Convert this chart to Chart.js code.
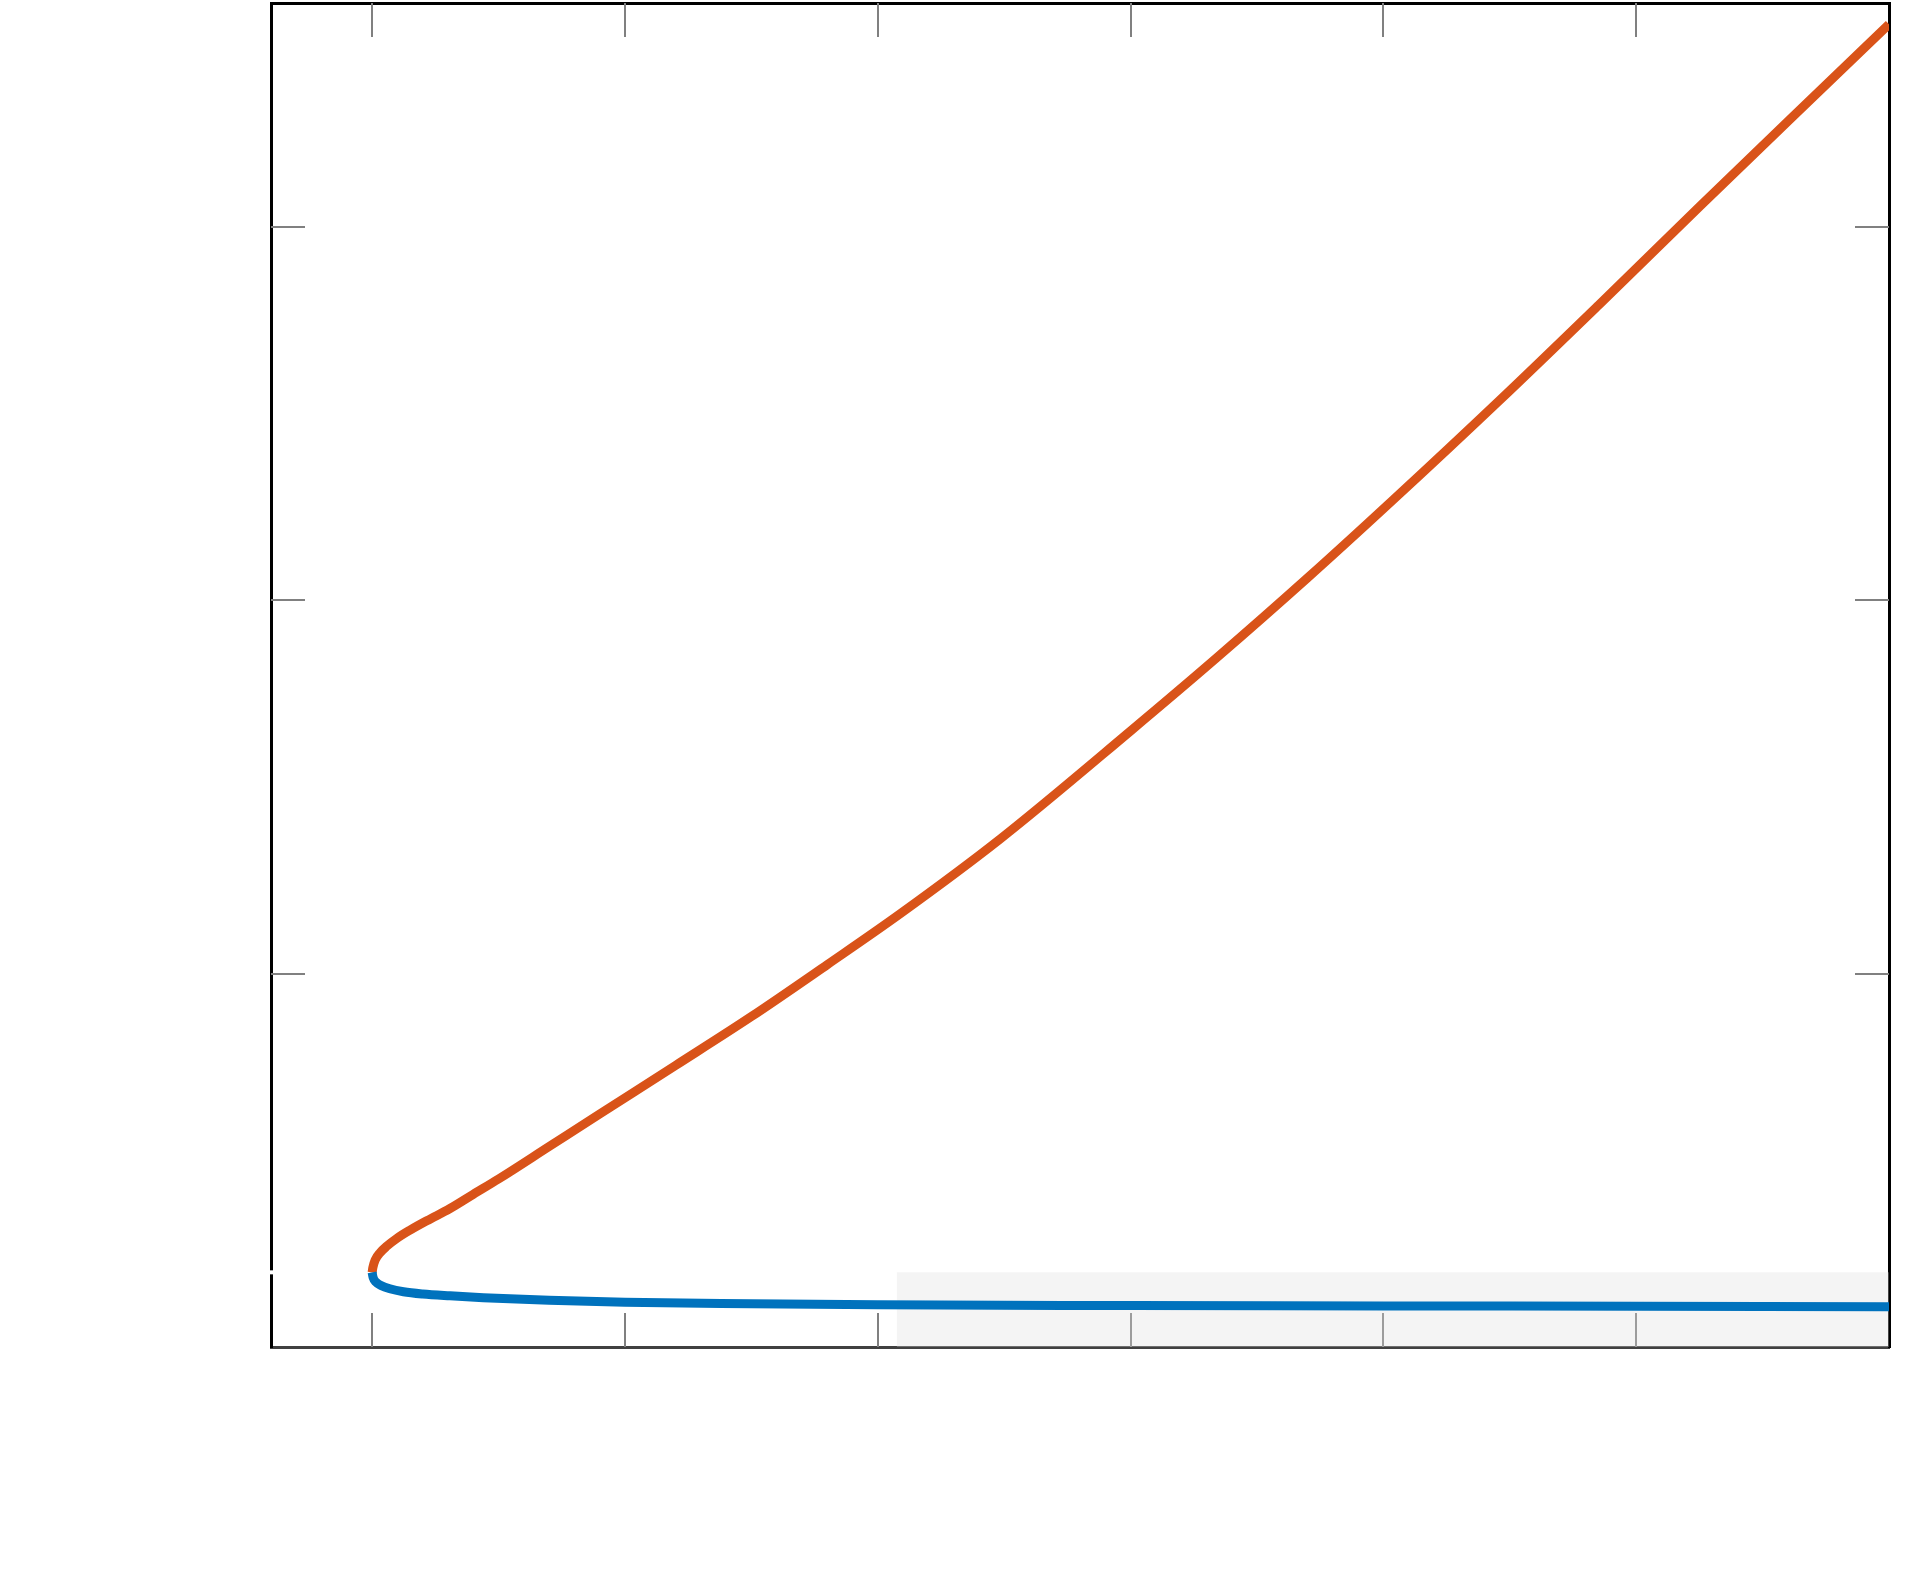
<!DOCTYPE html>
<html>
<head>
<meta charset="utf-8">
<script src="https://cdn.jsdelivr.net/npm/chart.js@4/dist/chart.umd.min.js"></script>
<style>
  html, body { margin: 0; padding: 0; background: #fff; }
  #chart { display: block; }
</style>
</head>
<body>
<canvas id="chart" width="1908" height="1590"></canvas>
<script>
'use strict';

/* ── data ──────────────────────────────────── */
const lowerX = [0, 0.004, 0.015, 0.035, 0.07, 0.124, 0.2, 0.308, 0.44, 0.7, 1.0, 1.5, 2.0, 3.0, 4.0, 5.0, 6.0];
const lowerY = [0.2, 0.186, 0.174, 0.165, 0.156, 0.148, 0.142, 0.137, 0.132, 0.125, 0.12, 0.116, 0.113, 0.111, 0.11, 0.109, 0.108];

const upperX = [0, 0.003, 0.012, 0.032, 0.058, 0.098, 0.15, 0.216, 0.308, 0.4, 0.5, 0.7, 0.9, 1.2,
                1.5, 1.8, 2.088, 2.483, 3.0, 3.339, 3.7, 4.04, 4.46, 4.85, 5.25, 5.62, 6.0];
const upperY = [0.2, 0.213, 0.233, 0.253, 0.27, 0.291, 0.313, 0.338, 0.371, 0.409, 0.45, 0.537, 0.624, 0.754,
                0.885, 1.024, 1.16, 1.36, 1.65, 1.845, 2.06, 2.27, 2.536, 2.79, 3.054, 3.296, 3.543];

// shaded band along the bottom
const bandX = [2.075, 6.0];
const bandY = [0.2, 0.2];

// small white nick on the left axis where the branches meet
const nickX = [-0.4055, -0.3915];
const nickY = [0.2, 0.2];

const xTicks = [0, 1, 2, 3, 4, 5];
const yTicks = [1, 2, 3];

const pts = (xs, ys) => xs.map((x, i) => ({ x, y: ys[i] }));

/* ── inward tick marks, MATLAB style ───────── */
const innerTicks = {
  id: 'innerTicks',
  beforeDatasetsDraw(chart) {
    const { ctx, chartArea: a, scales } = chart;
    const len = 34;
    ctx.save();
    ctx.strokeStyle = '#808080';
    ctx.lineWidth = 2;
    ctx.beginPath();
    scales.x.ticks.forEach(t => {
      const px = Math.round(scales.x.getPixelForValue(t.value));
      ctx.moveTo(px, a.bottom); ctx.lineTo(px, a.bottom - len);
      ctx.moveTo(px, a.top);    ctx.lineTo(px, a.top + len);
    });
    scales.y.ticks.forEach(t => {
      const py = Math.round(scales.y.getPixelForValue(t.value));
      ctx.moveTo(a.left, py);  ctx.lineTo(a.left + len, py);
      ctx.moveTo(a.right, py); ctx.lineTo(a.right - len, py);
    });
    ctx.stroke();
    ctx.restore();
  },
};

function axis(position, min, max, borderColor, tickValues) {
  return {
    type: 'linear',
    position,
    min, max,
    afterBuildTicks: s => { s.ticks = (tickValues || []).map(v => ({ value: v })); },
    grid: { display: true, drawOnChartArea: false, drawTicks: false },
    border: { display: true, color: borderColor, width: 3 },
    ticks: { display: false },
  };
}

new Chart(document.getElementById('chart'), {
  type: 'line',
  data: {
    datasets: [
      {
        data: pts(nickX, nickY),
        borderColor: '#ffffff',
        borderWidth: 4,
        borderCapStyle: 'butt',
        pointRadius: 0,
        clip: false,
        fill: false,
      },
      {
        data: pts(lowerX, lowerY),
        borderColor: '#0072BD',
        borderWidth: 9,
        borderCapStyle: 'butt',
        borderJoinStyle: 'round',
        pointRadius: 0,
        cubicInterpolationMode: 'monotone',
        fill: false,
      },
      {
        data: pts(upperX, upperY),
        borderColor: '#D95319',
        borderWidth: 9,
        borderCapStyle: 'butt',
        borderJoinStyle: 'round',
        pointRadius: 0,
        cubicInterpolationMode: 'monotone',
        fill: false,
      },
      {
        data: pts(bandX, bandY),
        borderWidth: 0,
        pointRadius: 0,
        backgroundColor: 'rgba(219,219,219,0.31)',
        fill: { value: -0.005 },
        clip: { left: 0, top: 0, right: 2, bottom: 2 },
      },
    ],
  },
  options: {
    responsive: false,
    devicePixelRatio: 1,
    animation: false,
    layout: { padding: { left: 271, top: 3, right: 19, bottom: 243 } },
    plugins: { legend: { display: false }, tooltip: { enabled: false } },
    scales: {
      x:  axis('bottom', -0.4, 6, '#404040', xTicks),
      x2: axis('top',    -0.4, 6, '#000000', []),
      y:  axis('left',   0, 3.6, '#000000', yTicks),
      y2: axis('right',  0, 3.6, '#000000', []),
    },
  },
  plugins: [innerTicks],
});
</script>
</body>
</html>
